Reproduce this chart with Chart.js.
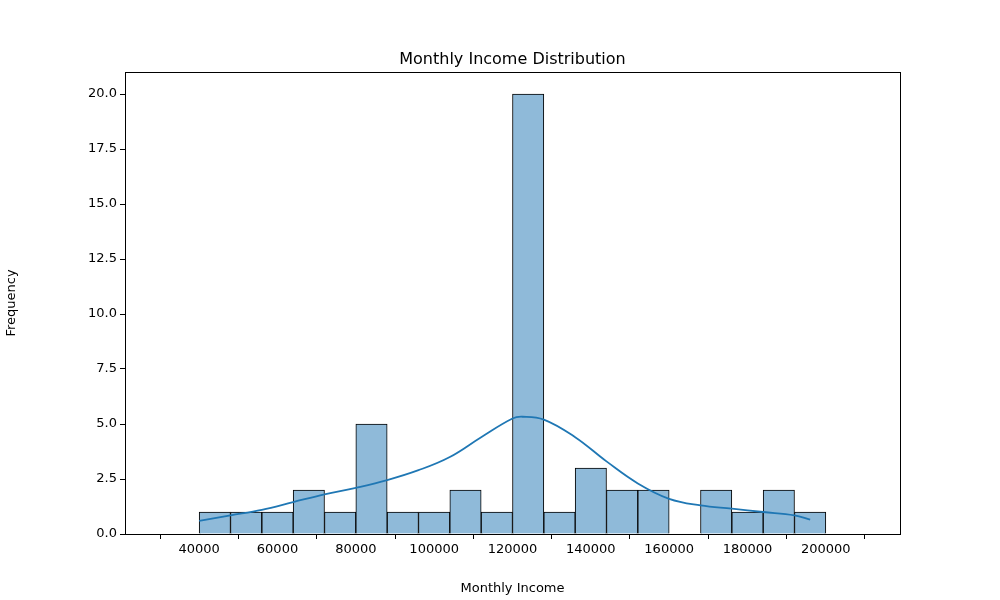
<!DOCTYPE html>
<html>
<head>
<meta charset="utf-8">
<script src="https://cdn.jsdelivr.net/npm/chart.js@4"></script>
<style>body{margin:0;background:#fff}</style>
</head>
<body>
<canvas id="c" width="1000" height="600"></canvas>
<script>
// histogram bins (8000 wide, 40000..200000)
const binCenters = [44000,52000,60000,68000,76000,84000,92000,100000,108000,116000,124000,132000,140000,148000,156000,164000,172000,180000,188000,196000];
const binCounts = [1,1,1,2,1,5,1,1,2,1,20,1,3,2,2,0,2,1,2,1];
// KDE curve
const kdeX = [40000,48000,56000,64000,72000,80000,88000,96000,104000,112000,120000,122500,128000,136000,144000,152000,160000,168000,176000,184000,192000,196000];
const kdeY = [0.6,0.85,1.1,1.45,1.8,2.1,2.45,2.9,3.5,4.4,5.25,5.33,5.2,4.4,3.3,2.3,1.6,1.3,1.15,1.0,0.85,0.65];
const xTicks = [40000,60000,80000,100000,120000,140000,160000,180000,200000];
const yTicks = [0,2.5,5,7.5,10,12.5,15,17.5,20];

const frame = {
  id: 'frame',
  afterDraw(chart) {
    const {ctx, chartArea: a} = chart;
    ctx.save();
    ctx.strokeStyle = '#000'; ctx.lineWidth = 1;
    ctx.strokeRect(a.left + 0.5, a.top + 0.5, a.right - a.left, a.bottom - a.top);
    ctx.fillStyle = '#000';
    ctx.font = '16px "DejaVu Sans"';
    ctx.textAlign = 'center';
    ctx.fillText('Monthly Income Distribution', (a.left + a.right) / 2, 64);
    ctx.restore();
  }
};

const font = {family: '"DejaVu Sans"', size: 13};

new Chart(document.getElementById('c'), {
  data: {
    datasets: [
      {
        type: 'line',
        data: kdeX.map((x, i) => ({x, y: kdeY[i]})),
        borderColor: '#1f77b4', borderWidth: 1.8,
        pointRadius: 0, tension: 0.4, fill: false
      },
      {
        type: 'bar',
        data: binCenters.map((x, i) => ({x, y: binCounts[i]})),
        backgroundColor: '#8fbad9', borderColor: '#000', borderWidth: 1,
        barPercentage: 1, categoryPercentage: 1
      }
    ]
  },
  options: {
    responsive: false, animation: false,
    layout: {padding: {top: 72, right: 100, left: 0, bottom: 0}},
    plugins: {legend: {display: false}, tooltip: {enabled: false}},
    scales: {
      x: {
        type: 'linear', min: 32056, max: 207944,
        afterBuildTicks: s => { s.ticks = xTicks.map(v => ({value: v})); },
        afterFit: s => { s.height = 66; },
        grid: {drawOnChartArea: false, tickLength: 5, color: '#000'},
        border: {display: false},
        ticks: {color: '#000', font, maxRotation: 0, callback: v => String(v)},
        title: {display: true, text: 'Monthly Income', color: '#000', font, padding: {top: 2}}
      },
      y: {
        min: 0, max: 21,
        afterBuildTicks: s => { s.ticks = yTicks.map(v => ({value: v})); },
        afterFit: s => { s.width = 125; },
        grid: {drawOnChartArea: false, tickLength: 5, color: '#000'},
        border: {display: false},
        ticks: {color: '#000', font, callback: v => Number(v).toFixed(1)},
        title: {display: true, text: 'Frequency', color: '#000', font}
      }
    }
  },
  plugins: [frame]
});
</script>
</body>
</html>
